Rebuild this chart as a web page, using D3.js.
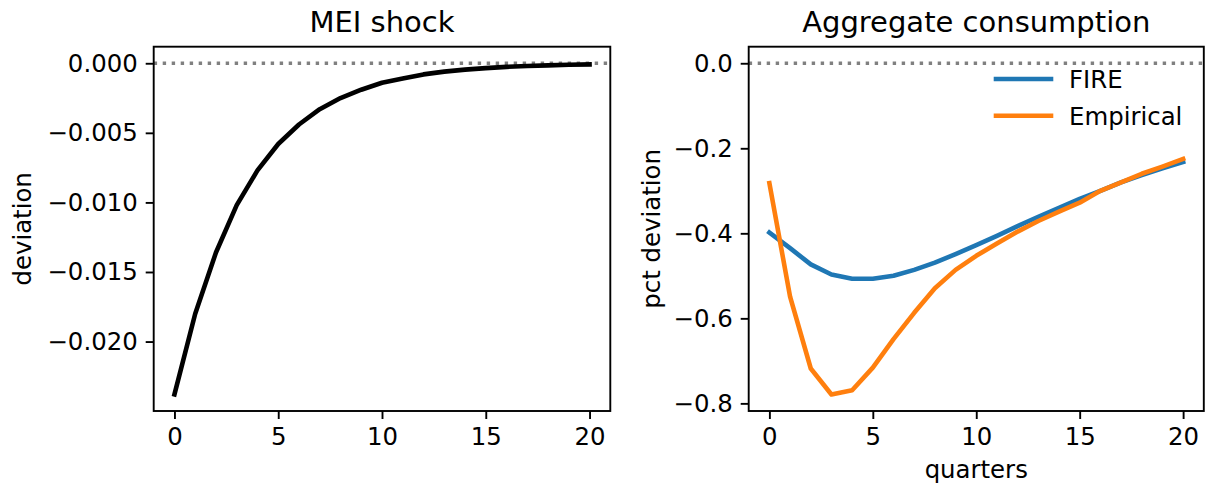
<!DOCTYPE html>
<html>
<head>
<meta charset="utf-8">
<script src="https://cdn.jsdelivr.net/npm/d3@7"></script>
<style>
  body { margin: 0; background: #fff; }
  svg { display: block; }
  text { font-family: "DejaVu Sans", sans-serif; fill: #000; }
</style>
</head>
<body>
<div id="chart"></div>
<script>
'use strict';

/**** DATA ****/
var quarters = d3.range(0, 21);
var meiShock = [-0.0238, -0.0180, -0.0136, -0.0102, -0.0077, -0.0058, -0.0044, -0.0033,
  -0.0025, -0.0019, -0.0014, -0.0011, -0.0008, -0.0006, -0.00046, -0.00035, -0.00026,
  -0.0002, -0.00015, -0.00011, -0.00008];
var fireC = [-0.398, -0.435, -0.473, -0.497, -0.507, -0.507, -0.500, -0.486, -0.469,
  -0.449, -0.428, -0.406, -0.383, -0.361, -0.340, -0.319, -0.300, -0.280, -0.263,
  -0.247, -0.232];
var empiricalC = [-0.282, -0.549, -0.718, -0.779, -0.769, -0.716, -0.649, -0.587, -0.529,
  -0.486, -0.453, -0.424, -0.396, -0.371, -0.349, -0.328, -0.300, -0.280, -0.260,
  -0.243, -0.225];
var xTicks = [0, 5, 10, 15, 20];
var leftTicks = [0, -0.005, -0.010, -0.015, -0.020];
var rightTicks = [0, -0.2, -0.4, -0.6, -0.8];
var seriesNames = ["FIRE", "Empirical"];
var seriesColors = ["#1f77b4", "#ff7f0e"];

var width = 1205, height = 489;
var svg = d3.select("#chart").append("svg")
  .attr("width", width)
  .attr("height", height);

// pad a domain like matplotlib does (5% each side), zero line included
function padded(vals) {
  var lo = d3.min(vals), hi = d3.max(vals);
  var m = (hi - lo) * 0.05;
  return [lo - m, hi + m];
}

// draw one panel, returns scales
function drawPanel(opts) {
  var g = svg.append("g");
  var x = d3.scaleLinear().domain([-1, 21]).range([opts.x0, opts.x1]);
  var y = d3.scaleLinear().domain(opts.yDomain).range([opts.y1, opts.y0]);

  // zero line
  g.append("line")
    .attr("x1", opts.x0).attr("x2", opts.x1)
    .attr("y1", y(0)).attr("y2", y(0))
    .attr("stroke", "#808080")
    .attr("stroke-width", 3.4)
    .attr("stroke-dasharray", "3.4,5.6");

  var line = d3.line()
    .x(function(d, i) { return x(quarters[i]); })
    .y(function(d) { return y(d); });

  opts.series.forEach(function(s) {
    g.append("path")
      .datum(s.values)
      .attr("fill", "none")
      .attr("stroke", s.color)
      .attr("stroke-width", 4.6)
      .attr("stroke-linejoin", "round")
      .attr("stroke-linecap", "square")
      .attr("d", line);
  });

  // frame
  g.append("rect")
    .attr("x", opts.x0).attr("y", opts.y0)
    .attr("width", opts.x1 - opts.x0).attr("height", opts.y1 - opts.y0)
    .attr("fill", "none")
    .attr("stroke", "#000")
    .attr("stroke-width", 1.9);

  var xAxis = g.append("g")
    .attr("transform", "translate(0," + opts.y1 + ")")
    .call(d3.axisBottom(x).tickValues(xTicks).tickSize(8).tickPadding(9).tickFormat(d3.format("d")));
  var yAxis = g.append("g")
    .attr("transform", "translate(" + opts.x0 + ",0)")
    .call(d3.axisLeft(y).tickValues(opts.yTicks).tickSize(8).tickPadding(8).tickFormat(opts.yFormat));

  [xAxis, yAxis].forEach(function(a) {
    a.select(".domain").remove();
    a.selectAll(".tick line").attr("stroke", "#000").attr("stroke-width", 1.9);
    a.selectAll(".tick text")
      .attr("font-size", "24.4px")
      .attr("font-family", "DejaVu Sans")
      .attr("fill", "#000");
  });

  // title
  g.append("text")
    .attr("x", (opts.x0 + opts.x1) / 2)
    .attr("y", 32)
    .attr("text-anchor", "middle")
    .attr("font-size", "29px")
    .text(opts.title);

  // y label
  g.append("text")
    .attr("transform", "translate(" + opts.ylabelX + "," + ((opts.y0 + opts.y1) / 2) + ")rotate(-90)")
    .attr("text-anchor", "middle")
    .attr("dy", "0.35em")
    .attr("font-size", "24.4px")
    .text(opts.ylabel);

  if (opts.xlabel) {
    g.append("text")
      .attr("x", (opts.x0 + opts.x1) / 2)
      .attr("y", 478)
      .attr("text-anchor", "middle")
      .attr("font-size", "24.4px")
      .text(opts.xlabel);
  }
  return { x: x, y: y, g: g };
}

var left = drawPanel({
  x0: 153.7, x1: 610.3, y0: 46.7, y1: 411,
  yDomain: padded(meiShock.concat([0])),
  yTicks: leftTicks,
  yFormat: d3.format(".3f"),
  series: [{ values: meiShock, color: "#000" }],
  title: "MEI shock",
  ylabel: "deviation",
  ylabelX: 22
});

var right = drawPanel({
  x0: 748.7, x1: 1203.8, y0: 46.7, y1: 411,
  yDomain: padded(fireC.concat(empiricalC, [0])),
  yTicks: rightTicks,
  yFormat: d3.format(".1f"),
  series: [
    { values: fireC, color: seriesColors[0] },
    { values: empiricalC, color: seriesColors[1] }
  ],
  title: "Aggregate consumption",
  ylabel: "pct deviation",
  ylabelX: 651,
  xlabel: "quarters"
});

// legend (no frame)
var legend = svg.append("g").attr("transform", "translate(996,79)");
seriesNames.forEach(function(name, i) {
  var row = legend.append("g").attr("transform", "translate(0," + (i * 36.7) + ")");
  row.append("line")
    .attr("x1", 0).attr("x2", 55)
    .attr("stroke", seriesColors[i])
    .attr("stroke-width", 4.6)
    .attr("stroke-linecap", "square");
  row.append("text")
    .attr("x", 73)
    .attr("dy", "0.38em")
    .attr("font-size", "24.4px")
    .text(name);
});
</script>
</body>
</html>
